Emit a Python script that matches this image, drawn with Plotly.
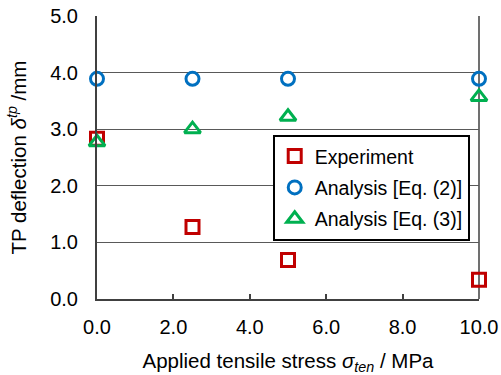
import plotly.graph_objects as go

stress = [0.0, 2.5, 5.0, 10.0]
experiment = [2.83, 1.27, 0.69, 0.34]
analysis_eq2 = [3.89, 3.89, 3.89, 3.89]
analysis_eq3 = [2.77, 3.00, 3.22, 3.57]
x_ticks = [0, 2, 4, 6, 8, 10]
y_ticks = [0, 1, 2, 3, 4, 5]

FONT = "Arial, Liberation Sans, sans-serif"

fig = go.Figure()
fig.add_trace(go.Scatter(
    x=stress, y=experiment, mode="markers", name="Experiment", legendgroup="a",
    marker=dict(symbol="square-open", size=13, color="#C00000", line=dict(width=3, color="#C00000")),
    cliponaxis=False))
fig.add_trace(go.Scatter(
    x=stress, y=analysis_eq2, mode="markers", name="Analysis [Eq. (2)]", legendgroup="b",
    marker=dict(symbol="circle-open", size=13, color="#0070C0", line=dict(width=3, color="#0070C0")),
    cliponaxis=False))
fig.add_trace(go.Scatter(
    x=stress, y=analysis_eq3, mode="markers", name="Analysis [Eq. (3)]", legendgroup="c",
    marker=dict(symbol="triangle-up-open", size=14, color="#00B050", line=dict(width=3, color="#00B050")),
    cliponaxis=False))

fig.update_layout(
    width=501, height=375,
    margin=dict(l=97, r=22, t=16, b=76, autoexpand=False),
    paper_bgcolor="white", plot_bgcolor="white",
    font=dict(family=FONT, size=20, color="black"),
    showlegend=True,
    legend=dict(x=0.46, y=0.58, xanchor="left", yanchor="top",
                bgcolor="white", bordercolor="black", borderwidth=2,
                font=dict(size=19.5), tracegroupgap=3, itemsizing="trace",
                itemwidth=30),
    xaxis=dict(
        range=[0, 10], tickvals=x_ticks, ticktext=[f"{v:.1f}" for v in x_ticks],
        showgrid=False, zeroline=False, showline=True, linecolor="#404040", linewidth=2,
        mirror=False, ticks="inside", ticklen=5, tickcolor="#404040", tickwidth=1.5,
        tickfont=dict(size=20), ticklabelstandoff=9, automargin=False,
        title=dict(text="Applied tensile stress <i>σ<sub>ten</sub></i> / MPa", font=dict(size=20.5), standoff=22),
    ),
    yaxis=dict(
        range=[0, 5], tickvals=y_ticks, ticktext=[f"{v:.1f}" for v in y_ticks],
        showgrid=True, gridcolor="#595959", gridwidth=1.2,
        zeroline=False, showline=True, linecolor="#404040", linewidth=2,
        ticks="", tickfont=dict(size=20), ticklabelstandoff=13, automargin=False,
        title=dict(text="TP deflection <i>δ<sup>tp</sup></i> /mm", font=dict(size=20.5), standoff=18),
    ),
)
# right border line
fig.add_shape(type="line", xref="paper", yref="paper", x0=1, x1=1, y0=0, y1=1,
              line=dict(color="#404040", width=1.5), layer="below")

fig.write_html("out.html", config={"displayModeBar": False},
               post_script="document.body.style.margin='0';document.body.style.overflow='hidden';")
